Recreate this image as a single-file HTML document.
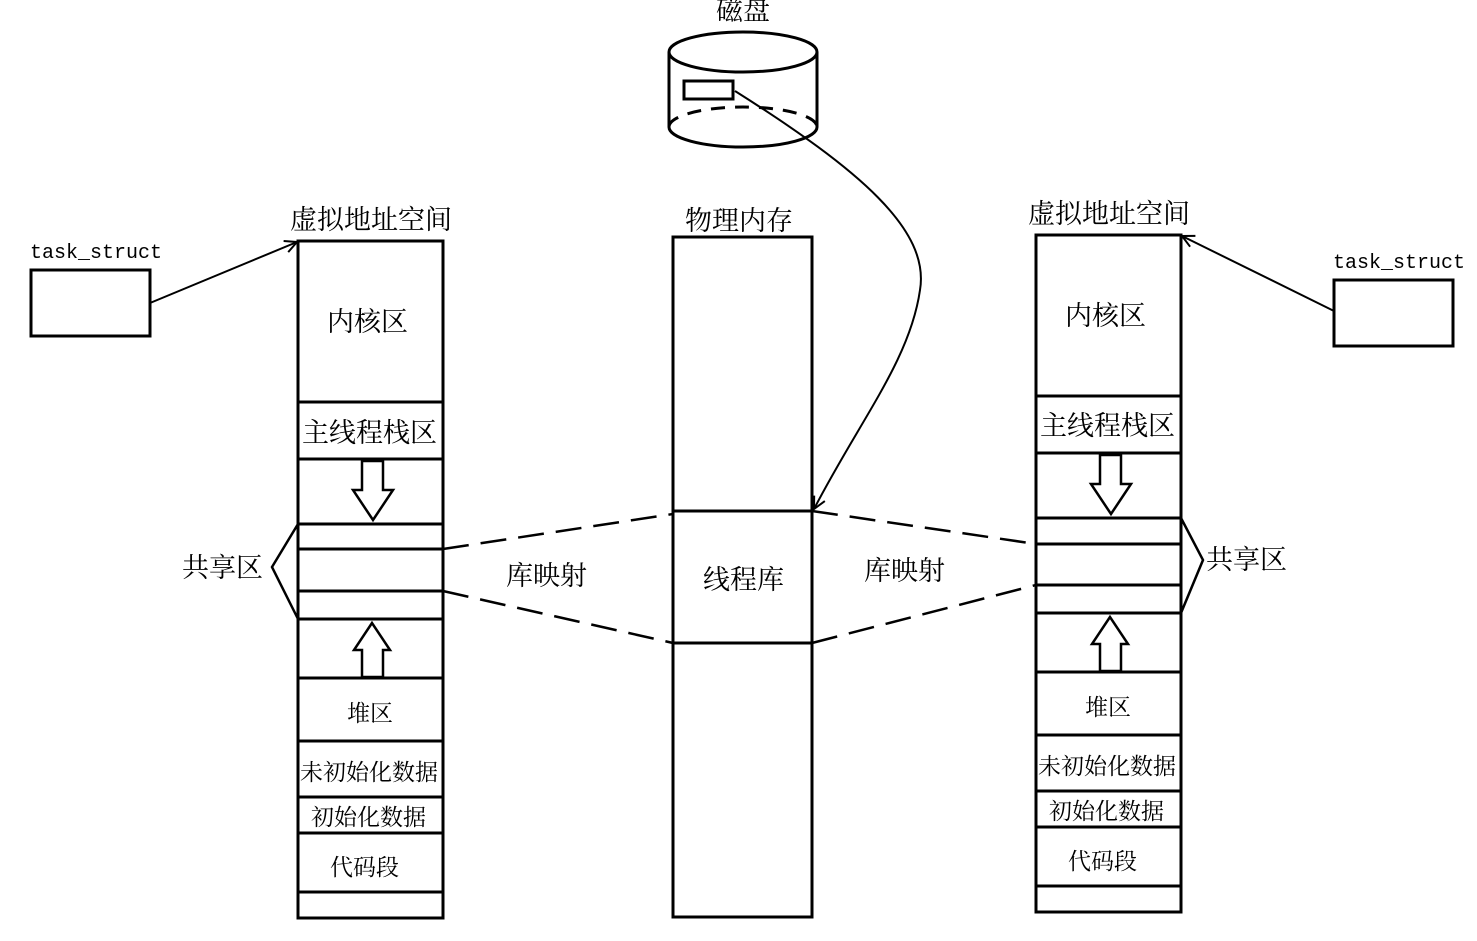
<!DOCTYPE html><html><head><style>body{margin:0;background:#fff}svg text{font-family:"Liberation Sans","Noto Serif CJK SC","Noto Sans CJK SC",serif;fill:#000}</style></head><body>
<svg width="1477" height="936" viewBox="0 0 1477 936" xmlns="http://www.w3.org/2000/svg">
<defs><marker id="a" markerWidth="16" markerHeight="16" refX="14" refY="8" orient="auto" markerUnits="userSpaceOnUse"><path d="M2,2 L14,8 L2,14" fill="none" stroke="#000" stroke-width="2"/></marker></defs>
<g stroke="#000" stroke-width="3" fill="none">
<rect x="298" y="241" width="145" height="677"/>
<path d="M298 402H443M298 459H443M298 524H443M298 549H443M298 591H443M298 619H443M298 678H443M298 741H443M298 797H443M298 833H443M298 892H443"/>
<path d="M362 461V490H353L373 520L393 490H383V461Z" stroke-width="2.5"/>
<path d="M372 623L354 650H362V677H383V650H390Z" stroke-width="2.5"/>
<path d="M298 524L272 567L298 619" stroke-width="2.5"/>
<rect x="1036" y="235" width="145" height="677"/>
<path d="M1036 396H1181M1036 453H1181M1036 518H1181M1036 544H1181M1036 585H1181M1036 613H1181M1036 672H1181M1036 735H1181M1036 791H1181M1036 827H1181M1036 886H1181"/>
<path d="M1100 455V484H1091L1111 514L1131 484H1121V455Z" stroke-width="2.5"/>
<path d="M1110 617L1092 644H1100V671H1121V644H1128Z" stroke-width="2.5"/>
<path d="M1181 518L1203 560L1181 613" stroke-width="2.5"/>
<rect x="673" y="237" width="139" height="680"/>
<path d="M673 511H812M673 643H812"/>
<g stroke-dasharray="26,12" stroke-width="2.5">
<path d="M443 549L673 514M443 591L673 643M812 511L1036 544M812 643L1036 585"/>
</g>
<rect x="31" y="270" width="119" height="66"/>
<rect x="1334" y="280" width="119" height="66"/>
<path d="M150 303L297 242" stroke-width="2" marker-end="url(#a)"/>
<path d="M1334 311L1182 236" stroke-width="2" marker-end="url(#a)"/>
<ellipse cx="743" cy="52" rx="74" ry="20"/>
<path d="M669 52V127A74 20 0 0 0 817 127V52"/>
<path d="M669 127A74 20 0 0 1 817 127" stroke-dasharray="14,10"/>
<rect x="684" y="81" width="49" height="18"/>
<path d="M735 91C860 170 930 230 920 290C910 360 860 420 814 509" stroke-width="2" marker-end="url(#a)"/>
</g>
<g font-size="27">
<text x="290" y="229">虚拟地址空间</text>
<text x="1028" y="223">虚拟地址空间</text>
<text x="685" y="230">物理内存</text>
<text x="716" y="20">磁盘</text>
<text x="327" y="331">内核区</text>
<text x="1065" y="325">内核区</text>
<text x="302" y="442">主线程栈区</text>
<text x="1040" y="435">主线程栈区</text>
<text x="182" y="577">共享区</text>
<text x="1206" y="569">共享区</text>
<text x="506" y="585">库映射</text>
<text x="864" y="580">库映射</text>
<text x="703" y="589">线程库</text>
</g>
<g font-size="23">
<text x="347" y="721">堆区</text>
<text x="1085" y="715">堆区</text>
<text x="300" y="780">未初始化数据</text>
<text x="1038" y="774">未初始化数据</text>
<text x="311" y="825">初始化数据</text>
<text x="1049" y="819">初始化数据</text>
<text x="330" y="875">代码段</text>
<text x="1068" y="869">代码段</text>
</g>
<text x="30" y="258" font-size="20" style="font-family:'Liberation Mono',monospace">task_struct</text>
<text x="1333" y="268" font-size="20" style="font-family:'Liberation Mono',monospace">task_struct</text>
</svg></body></html>
